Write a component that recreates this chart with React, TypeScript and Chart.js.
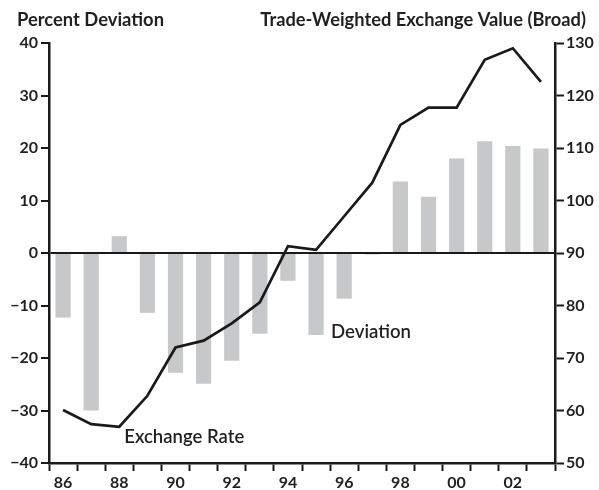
import React, { useEffect, useRef } from 'react';
import { Chart, registerables } from 'chart.js';

Chart.register(...registerables);

const years = ['86', '87', '88', '89', '90', '91', '92', '93', '94', '95', '96', '97', '98', '99', '00', '01', '02', '03'];
const deviation = [-12.3, -30.0, 3.2, -11.4, -22.8, -24.9, -20.5, -15.4, -5.3, -15.6, -8.7, -0.3, 13.6, 10.7, 18.0, 21.3, 20.4, 19.9];
const exchangeRate = [60.1, 57.4, 56.9, 62.8, 72.0, 73.3, 76.6, 80.6, 91.3, 90.6, 97.0, 103.4, 114.4, 117.7, 117.7, 126.8, 129.0, 122.6];
const leftRange = [-40, 40];
const rightRange = [50, 130];
const leftTitle = 'Percent Deviation';
const rightTitle = 'Trade-Weighted Exchange Value (Broad)';
const lineLabel = 'Exchange Rate';
const barLabel = 'Deviation';

const TEXT = '#231f20';
const FONT = 'Lato, "Open Sans", sans-serif';

function fitFont(ctx: CanvasRenderingContext2D, text: string, weight: string, target: number) {
  ctx.font = `${weight} 16px ${FONT}`;
  const w = ctx.measureText(text).width || 1;
  const size = (16 * target) / w;
  ctx.font = `${weight} ${size.toFixed(2)}px ${FONT}`;
}

const textPlugin = {
  id: 'textPlugin',
  afterDatasetsDraw(chart: any) {
    const { ctx, scales } = chart;
    const x = scales.x;
    const y = scales.y;
    ctx.save();
    ctx.fillStyle = TEXT;
    ctx.textBaseline = 'alphabetic';
    ctx.textAlign = 'left';
    fitFont(ctx, lineLabel, '600', 120);
    ctx.fillText(lineLabel, x.getPixelForValue(2) + 5, y.getPixelForValue(-36.2));
    fitFont(ctx, barLabel, '600', 80);
    ctx.fillText(barLabel, x.getPixelForValue(9) + 15, y.getPixelForValue(-16.2));
    fitFont(ctx, leftTitle, 'bold', 147);
    ctx.fillText(leftTitle, 17, 26);
    fitFont(ctx, rightTitle, 'bold', 326);
    ctx.textAlign = 'right';
    ctx.fillText(rightTitle, 586, 26);
    ctx.restore();
  },
};

const minus = (v: any) => String(v).replace('-', '\u2212');

export default function App() {
  const ref = useRef<HTMLCanvasElement>(null);
  useEffect(() => {
    if (!ref.current) return;
    const chart = new Chart(ref.current, {
      type: 'bar',
      data: {
        labels: years,
        datasets: [
          {
            type: 'line',
            label: lineLabel,
            data: exchangeRate,
            yAxisID: 'y1',
            borderColor: '#1a1a1a',
            borderWidth: 2.7,
            pointRadius: 0,
            tension: 0,
            order: 0,
          } as any,
          {
            type: 'bar',
            label: barLabel,
            data: deviation,
            yAxisID: 'y',
            backgroundColor: '#c7c8ca',
            categoryPercentage: 1,
            barPercentage: 0.54,
            order: 1,
          },
        ],
      },
      options: {
        animation: false,
        responsive: false,
        maintainAspectRatio: false,
        layout: { padding: { top: 43, left: 0, right: 0, bottom: 0 } },
        plugins: {
          legend: { display: false },
          tooltip: { enabled: false },
          title: { display: false },
        },
        scales: {
          x: {
            type: 'category',
            offset: true,
            grid: {
              offset: true,
              drawOnChartArea: false,
              drawTicks: true,
              tickLength: 8,
              tickColor: '#1a1a1a',
              tickWidth: 2,
            },
            border: { display: true, color: '#1a1a1a', width: 2.5 },
            ticks: {
              autoSkip: false,
              maxRotation: 0,
              padding: 2,
              color: TEXT,
              font: { family: FONT, size: 16, weight: 'bold' },
              callback: (_v: any, i: number) => (i % 2 === 0 ? years[i] : ''),
            },
            afterFit: (s: any) => { s.height = 27; },
          },
          y: {
            position: 'left',
            min: leftRange[0],
            max: leftRange[1],
            grid: {
              drawOnChartArea: true,
              color: (c: any) => (c.tick && c.tick.value === 0 ? '#1a1a1a' : 'rgba(0,0,0,0)'),
              lineWidth: 2,
              tickColor: '#1a1a1a',
              tickWidth: 2,
              tickLength: 8,
            },
            border: { display: true, color: '#1a1a1a', width: 2.5 },
            ticks: {
              stepSize: 10,
              padding: 3,
              color: TEXT,
              font: { family: FONT, size: 16, weight: 'bold' },
              callback: (v: any) => minus(v),
            },
            afterFit: (s: any) => { s.width = 49; },
          },
          y1: {
            position: 'right',
            min: rightRange[0],
            max: rightRange[1],
            grid: {
              drawOnChartArea: false,
              tickColor: '#1a1a1a',
              tickWidth: 2,
              tickLength: 9,
            },
            border: { display: true, color: '#1a1a1a', width: 2.5 },
            ticks: {
              stepSize: 10,
              padding: 2,
              color: TEXT,
              font: { family: FONT, size: 16, weight: 'bold' },
            },
            afterFit: (s: any) => { s.width = 44; },
          },
        },
      },
      plugins: [textPlugin],
    });
    return () => chart.destroy();
  }, []);
  return (
    <div style={{ position: 'absolute', left: 0, top: 0, width: 599, height: 490, background: '#fff' }}>
      <canvas ref={ref} width={599} height={490} style={{ width: 599, height: 490 }} />
    </div>
  );
}
